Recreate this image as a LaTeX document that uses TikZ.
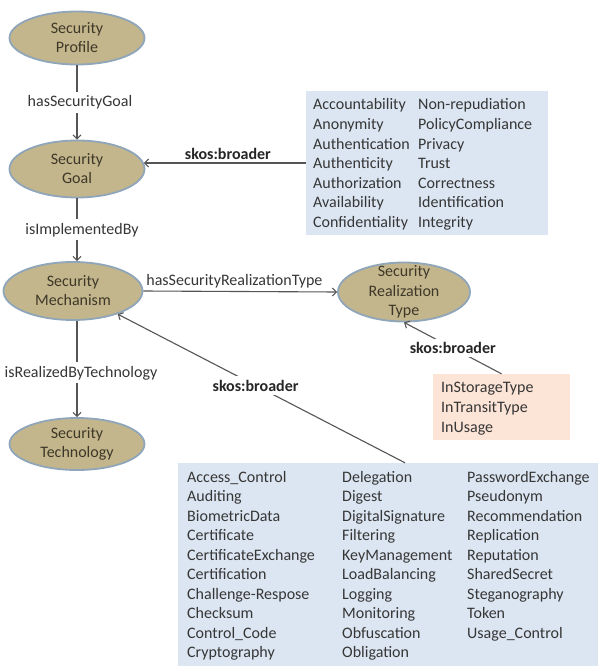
\documentclass[tikz,border=0pt]{standalone}
\usepackage{fontspec}
\setmainfont{Carlito}
\usetikzlibrary{arrows.meta,shapes.geometric}
\definecolor{ellfill}{HTML}{C4B68C}
\definecolor{elldraw}{HTML}{8FA5BA}
\definecolor{ltxt}{HTML}{363636}
\definecolor{etxt}{HTML}{3D3828}
\definecolor{bluefill}{HTML}{DCE6F2}
\definecolor{orangefill}{HTML}{FCE4D6}
\definecolor{conn}{HTML}{555555}
\begin{document}
\begin{tikzpicture}[x=1pt,y=-1pt,
  font=\fontsize{16}{19.5}\selectfont,
  concept/.style={ellipse, fill=ellfill, draw=elldraw, line width=1.8pt,
    minimum width=135pt, minimum height=56pt, inner sep=0pt},
  ctext/.style={align=center, text=etxt, inner sep=0pt, font=\fontsize{16}{19}\selectfont},
  arr/.style={draw=conn, line width=1.1pt, -{Straight Barb[length=4pt,width=8pt]}},
  onl/.style={fill=white, text=ltxt, inner sep=3.5pt},
  boldlbl/.style={text=black!85, font=\fontsize{16}{19.5}\selectfont\bfseries},
  listbox/.style={draw=none, inner sep=0pt},
  item/.style={anchor=base west, text=ltxt, inner sep=0pt}
]
\useasboundingbox[fill=white] (0,0) rectangle (598,666);

% concept ellipses
\node[concept, minimum height=53pt, label={[ctext]center:Security\\Profile}] (prof) at (77,38) {};
\node[concept, minimum height=57pt, label={[ctext]center:Security\\Goal}] (goal) at (77,169) {};
\node[concept, minimum width=139pt, minimum height=58pt, label={[ctext]center:Security\\Mechanism}] (mech) at (73,291) {};
\node[concept, minimum height=52pt, label={[ctext]center:Security\\Technology}] (tech) at (77,444) {};
\node[concept, minimum width=132pt, minimum height=59pt, label={[ctext, font=\fontsize{16}{19.5}\selectfont]center:Security\\Realization\\Type}] (real) at (404,292) {};

% list boxes
\node[listbox, fill=bluefill, minimum width=242pt, minimum height=144pt] (goals) at (427,163) {};
\node[listbox, fill=orangefill, minimum width=137pt, minimum height=66pt] (rtypes) at (501.5,407) {};
\node[listbox, fill=bluefill, minimum width=420pt, minimum height=203pt] (mechs) at (388,564.5) {};

% goal list
\foreach \t [count=\i from 0] in {Accountability,Anonymity,Authentication,Authenticity,Authorization,Availability,Confidentiality}
  \node[item] (ga\i) at (313,{110+19.5*\i}) {\t};
\foreach \t [count=\i from 0] in {Non-repudiation,PolicyCompliance,Privacy,Trust,Correctness,Identification,Integrity}
  \node[item] (gb\i) at (418,{110+19.5*\i}) {\t};

% realization type list
\foreach \t [count=\i from 0] in {InStorageType,InTransitType,InUsage}
  \node[item] (rt\i) at (441,{392+20*\i}) {\t};

% mechanism list
\foreach \t [count=\i from 0] in {Access\_Control,Auditing,BiometricData,Certificate,CertificateExchange,Certification,Challenge-Respose,Checksum,Control\_Code,Cryptography}
  \node[item] (ma\i) at (187,{482+19.55*\i}) {\t};
\foreach \t [count=\i from 0] in {Delegation,Digest,DigitalSignature,Filtering,KeyManagement,LoadBalancing,Logging,Monitoring,Obfuscation,Obligation}
  \node[item] (mb\i) at (342,{482+19.55*\i}) {\t};
\foreach \t [count=\i from 0] in {PasswordExchange,Pseudonym,Recommendation,Replication,Reputation,SharedSecret,Steganography,Token,Usage\_Control}
  \node[item] (mc\i) at (467,{482+19.55*\i}) {\t};

% connectors
\draw[arr] (prof.south) -- node[onl, xshift=3pt]{hasSecurityGoal} (goal.north);
\draw[arr] (goal.south) -- node[onl, xshift=5pt]{isImplementedBy} (goal.south |- mech.north);
\draw[arr] (mech.south -| tech.north) -- node[onl, pos=0.54, xshift=4pt]{isRealizedByTechnology} (tech.north);
\draw[arr] (mech.east) -- node[pos=0.47, above=1pt, text=ltxt, inner sep=2pt]{hasSecurityRealizationType} (real.west);
\draw[arr] (goals.west) -- node[above=1pt, boldlbl, inner sep=2pt, xshift=3pt]{skos:broader} ([xshift=-1.5pt]goals.west -| goal.east);
\coordinate (mechsTop) at ([xshift=17pt]mechs.north);
\draw[arr] (mechsTop) -- node[onl, boldlbl, pos=0.52]{skos:broader} (mech);
\draw[arr] (rtypes.north) -- node[onl, boldlbl, inner sep=3pt]{skos:broader} (real.south);
\end{tikzpicture}
\end{document}
